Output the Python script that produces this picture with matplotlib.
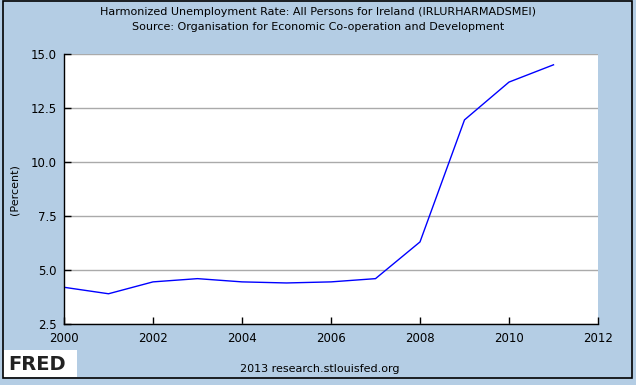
import matplotlib
matplotlib.use("Agg")
import matplotlib.pyplot as plt
from matplotlib.patches import Rectangle

years = [2000, 2001, 2002, 2003, 2004, 2005, 2006, 2007, 2008, 2009, 2010, 2011]
rate = [4.2, 3.9, 4.45, 4.6, 4.45, 4.4, 4.45, 4.6, 6.3, 11.95, 13.7, 14.5]

x_ticks = [2000, 2002, 2004, 2006, 2008, 2010, 2012]
y_ticks = [2.5, 5.0, 7.5, 10.0, 12.5, 15.0]

bg = "#B4CDE4"

fig = plt.figure(figsize=(6.36, 3.85), dpi=100, facecolor=bg)
ax = fig.add_axes([64 / 636, 1 - 324 / 385, (598 - 64) / 636, (324 - 54) / 385])
ax.set_facecolor("white")

ax.plot(years, rate, color="#0000FF", linewidth=1.0)

ax.set_xlim(2000, 2012)
ax.set_ylim(2.5, 15.0)
ax.set_xticks(x_ticks)
ax.set_yticks(y_ticks)
ax.set_yticklabels([f"{v:.1f}" for v in y_ticks])
ax.grid(axis="y", color="#AAAAAA", linewidth=1.0)
ax.set_axisbelow(True)
ax.tick_params(direction="in", length=5, width=1, color="black", labelsize=8.5)
ax.tick_params(axis="x", pad=6)
ax.tick_params(axis="y", pad=5)
for s in ["top", "right"]:
    ax.spines[s].set_visible(False)
for s in ["left", "bottom"]:
    ax.spines[s].set_color("black")
    ax.spines[s].set_linewidth(1.0)

fig.text(15 / 636, 1 - 190 / 385, "(Percent)", rotation=90,
         ha="center", va="center", fontsize=8)

fig.text(0.5, 1 - 12 / 385, "Harmonized Unemployment Rate: All Persons for Ireland (IRLURHARMADSMEI)",
         ha="center", va="center", fontsize=8)
fig.text(0.5, 1 - 27 / 385, "Source: Organisation for Economic Co-operation and Development",
         ha="center", va="center", fontsize=8)
fig.text(320 / 636, 1 - 369 / 385, "2013 research.stlouisfed.org",
         ha="center", va="center", fontsize=8)

# FRED logo
fig.patches.append(Rectangle((3 / 636, 1 - 377 / 385), 74 / 636, 27 / 385,
                             transform=fig.transFigure, facecolor="white",
                             edgecolor="none"))
fig.text(8 / 636, 1 - 365 / 385, "FRED", ha="left", va="center", fontsize=14,
         fontweight="bold", color="#222222")

# outer frame
fig.patches.append(Rectangle((3 / 636, 1 - 378 / 385), 629 / 636, 377 / 385,
                             transform=fig.transFigure, facecolor="none",
                             edgecolor="black", linewidth=1.2))

fig.savefig("out.png", dpi=100, facecolor=bg)
